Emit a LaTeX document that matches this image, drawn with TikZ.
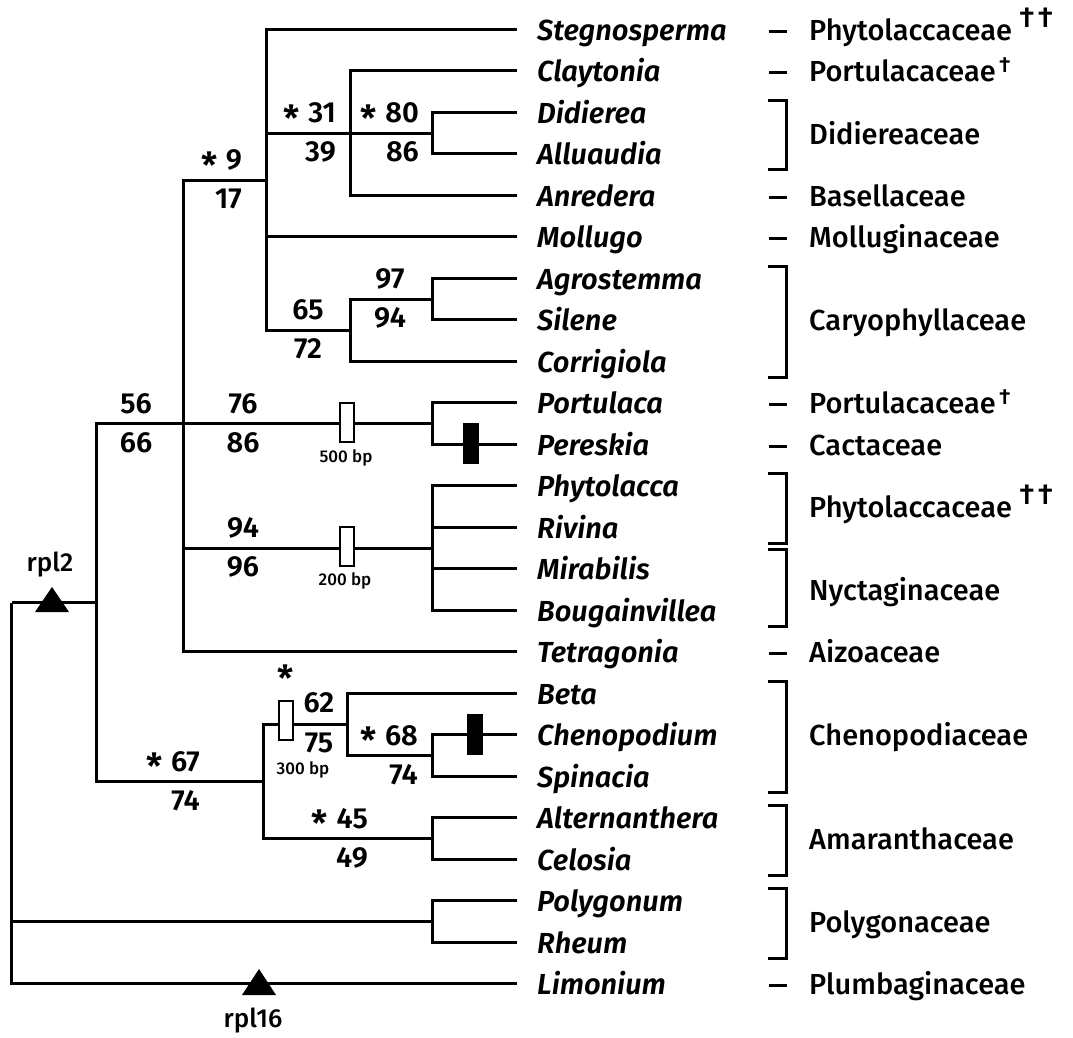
\documentclass[tikz,border=0pt]{standalone}
\usepackage{fontspec}
\setmainfont{Fira Sans}[UprightFont={* Medium}, ItalicFont={* Medium Italic}, BoldFont={* SemiBold}, BoldItalicFont={* SemiBold Italic}]
\newcommand{\starmark}{\smash{\raisebox{-8.5pt}{\fontsize{36}{36}\selectfont *}}}
\newcommand{\sast}{\starmark\hspace{0.3em}}
\newcommand{\twodag}{\hspace{0.25em}\raisebox{0.45em}{†\hspace{0.12em}†}}
\newcommand{\onedag}{\hspace{0.12em}\raisebox{0.32em}{\fontsize{22}{22}\selectfont †}}
\begin{document}
\begin{tikzpicture}[x=1pt,y=-1pt,
  tree/.style={line width=3pt, line join=miter},
  taxon/.style={anchor=base west, inner sep=0pt, font=\fontsize{29}{31}\selectfont\bfseries\itshape},
  fam/.style={anchor=base west, inner sep=0pt, font=\fontsize{29}{31}\selectfont},
  num/.style={inner sep=0pt, font=\fontsize{29}{31}\selectfont\bfseries},
  bplab/.style={inner sep=0pt, font=\fontsize{17}{18}\selectfont},
  genelab/.style={inner sep=0pt, font=\fontsize{26}{28}\selectfont},
  openbox/.style={draw, line width=2pt, fill=white, minimum width=14pt, minimum height=39pt, inner sep=0pt},
  blackbox/.style={draw, fill=black, line width=0pt, minimum width=15pt, minimum height=40pt, inner sep=0pt},
  famdash/.style={line width=3pt},
  brack/.style={line width=3pt, line join=miter}
]
\useasboundingbox (0,0) rectangle (1073,1038);
% leaf ends
\foreach \i/\y in {0/29.5,1/70.5,2/112.5,3/153.5,4/195.5,5/236.5,6/278.5,7/319.5,8/361.5,9/402.5,10/444.5,11/485.5,12/527.5,13/568.5,14/610.5,15/651.5,16/693.5,17/734.5,18/776.5,19/817.5,20/859.5,21/900.5,22/942.5,23/983.5}
  \coordinate (L\i) at (517,\y);
% internal nodes
\coordinate (nDA) at (432.5,133.5);
\coordinate (nCDA) at (350.5,133.5);
\coordinate (nAS) at (432.5,299.5);
\coordinate (nCar) at (350.5,330.5);
\coordinate (n9) at (266.5,180.5);
\coordinate (nPP) at (432.5,423.5);
\coordinate (nPR) at (432.5,548.5);
\coordinate (n56) at (183.5,423.5);
\coordinate (nBS) at (432.5,755.5);
\coordinate (nBeta) at (347.5,724.5);
\coordinate (nAC) at (432.5,838.5);
\coordinate (n67) at (263.5,781.5);
\coordinate (nR2) at (96.5,602.5);
\coordinate (nPol) at (432.5,921.5);
\coordinate (root) at (11.5,602.5);
% tree
\draw[tree] (root) |- (nR2);
\draw[tree] (root) |- (nPol);
\draw[tree] (root) |- (L23);
\draw[tree] (nPol) |- (L21);
\draw[tree] (nPol) |- (L22);
\draw[tree] (nR2) |- (n56);
\draw[tree] (nR2) |- (n67);
\draw[tree] (n56) |- (n9);
\draw[tree] (n56) |- (nPP);
\draw[tree] (n56) |- (nPR);
\draw[tree] (n56) |- (L15);
\draw[tree] (n9) |- (L0);
\draw[tree] (n9) |- (nCDA);
\draw[tree] (n9) |- (L5);
\draw[tree] (n9) |- (nCar);
\draw[tree] (nCDA) |- (L1);
\draw[tree] (nCDA) |- (nDA);
\draw[tree] (nCDA) |- (L4);
\draw[tree] (nDA) |- (L2);
\draw[tree] (nDA) |- (L3);
\draw[tree] (nCar) |- (nAS);
\draw[tree] (nCar) |- (L8);
\draw[tree] (nAS) |- (L6);
\draw[tree] (nAS) |- (L7);
\draw[tree] (nPP) |- (L9);
\draw[tree] (nPP) |- (L10);
\draw[tree] (nPR) |- (L11);
\draw[tree] (nPR) |- (L12);
\draw[tree] (nPR) |- (L13);
\draw[tree] (nPR) |- (L14);
\draw[tree] (n67) |- (nBeta);
\draw[tree] (n67) |- (nAC);
\draw[tree] (nBeta) |- (L16);
\draw[tree] (nBeta) |- (nBS);
\draw[tree] (nBS) |- (L17);
\draw[tree] (nBS) |- (L18);
\draw[tree] (nAC) |- (L19);
\draw[tree] (nAC) |- (L20);
% insertion / deletion boxes
\node[openbox] (b500) at (347,422) {};
\node[openbox] (b200) at (347,546) {};
\node[openbox] (b300) at (286,720) {};
\node[blackbox] (kPer) at (470.5,443.5) {};
\node[blackbox] (kChe) at (474.5,734) {};
\node[bplab] (l500) at (346,458) {500 bp};
\node[bplab] (l200) at (345,581) {200 bp};
\node[bplab] (l300) at (303,770) {300 bp};
% triangles
\fill (52,587) -- (69,612) -- (35,612) -- cycle;
\fill (259,969) -- (276,995) -- (242,995) -- cycle;
\node[genelab] (rpl2) at (50,565) {rpl2};
\node[genelab] (rpl16) at (253,1021) {rpl16};
% support values
\node[num, anchor=east] (a9) at (242,160) {\sast 9};
\node[num, anchor=east] (b9) at (242,199) {17};
\node[num, anchor=east] (a31) at (336,113) {\sast 31};
\node[num, anchor=east] (b31) at (336,152) {39};
\node[num, anchor=east] (a80) at (419,113) {\sast 80};
\node[num, anchor=east] (b80) at (419,152) {86};
\node[num] (a97) at (390,279) {97};
\node[num] (b97) at (390,318) {94};
\node[num] (a65) at (308,310) {65};
\node[num] (b65) at (308,349) {72};
\node[num] (a56) at (136,403.5) {56};
\node[num] (b56) at (136,442.5) {66};
\node[num] (a76) at (243,403.5) {76};
\node[num] (b76) at (243,442.5) {86};
\node[num] (a94) at (243,528) {94};
\node[num] (b94) at (243,567) {96};
\node[num, anchor=east] (a67) at (200,761.5) {\sast 67};
\node[num, anchor=east] (b67) at (200,800.5) {74};
\node[num, anchor=east] (a45) at (368,818.5) {\sast 45};
\node[num, anchor=east] (b45) at (368,857.5) {49};
\node[num] (a62) at (319,702.5) {62};
\node[num] (b62) at (319,742.5) {75};
\node[num, minimum height=20pt] (s300) at (286,683) {\starmark};
\node[num, anchor=east] (a68) at (418,735.5) {\sast 68};
\node[num, anchor=east] (b68) at (418,774.5) {74};
% taxa
\foreach \i/\y/\t in {0/29.5/Stegnosperma,1/70.5/Claytonia,2/112.5/Didierea,3/153.5/Alluaudia,4/195.5/Anredera,5/236.5/Mollugo,6/278.5/Agrostemma,7/319.5/Silene,8/361.5/Corrigiola,9/402.5/Portulaca,10/444.5/Pereskia,11/485.5/Phytolacca,12/527.5/Rivina,13/568.5/Mirabilis,14/610.5/Bougainvillea,15/651.5/Tetragonia,16/693.5/Beta,17/734.5/Chenopodium,18/776.5/Spinacia,19/817.5/Alternanthera,20/859.5/Celosia,21/900.5/Polygonum,22/942.5/Rheum,23/983.5/Limonium}
  \node[taxon] (t\i) at (537,\y+11) {\t};
% families, single
\node[fam] (f0) at (809,40.5) {Phytolaccaceae\twodag};
\node[fam] (f1) at (809,81.5) {Portulacaceae\onedag};
\node[fam] (f4) at (809,206.5) {Basellaceae};
\node[fam] (f5) at (809,247.5) {Molluginaceae};
\node[fam] (f9) at (809,413.5) {Portulacaceae\onedag};
\node[fam] (f10) at (809,455.5) {Cactaceae};
\node[fam] (f15) at (809,662.5) {Aizoaceae};
\node[fam] (f23) at (809,994.5) {Plumbaginaceae};
% families, grouped
\node[fam] (g1) at (809,144) {Didiereaceae};
\node[fam] (g2) at (809,330.5) {Caryophyllaceae};
\node[fam] (g3) at (809,517.5) {Phytolaccaceae\twodag};
\node[fam] (g4) at (809,600.5) {Nyctaginaceae};
\node[fam] (g5) at (809,745.5) {Chenopodiaceae};
\node[fam] (g6) at (809,849.5) {Amaranthaceae};
\node[fam] (g7) at (809,932.5) {Polygonaceae};
% dashes
\foreach \y in {29.5,70.5,195.5,236.5,402.5,444.5,651.5,983.5}
  \draw[famdash] (769,\y+2) -- (787,\y+2);
% brackets
\foreach \a/\b in {100.5/169.5,266.5/377.5,473.5/543.5,549.5/626.5,681.5/792.5,805.5/875.5,888.5/958.5}
  \draw[brack] (768,\a) -- (786.5,\a) -- (786.5,\b) -- (768,\b);
\end{tikzpicture}
\end{document}
